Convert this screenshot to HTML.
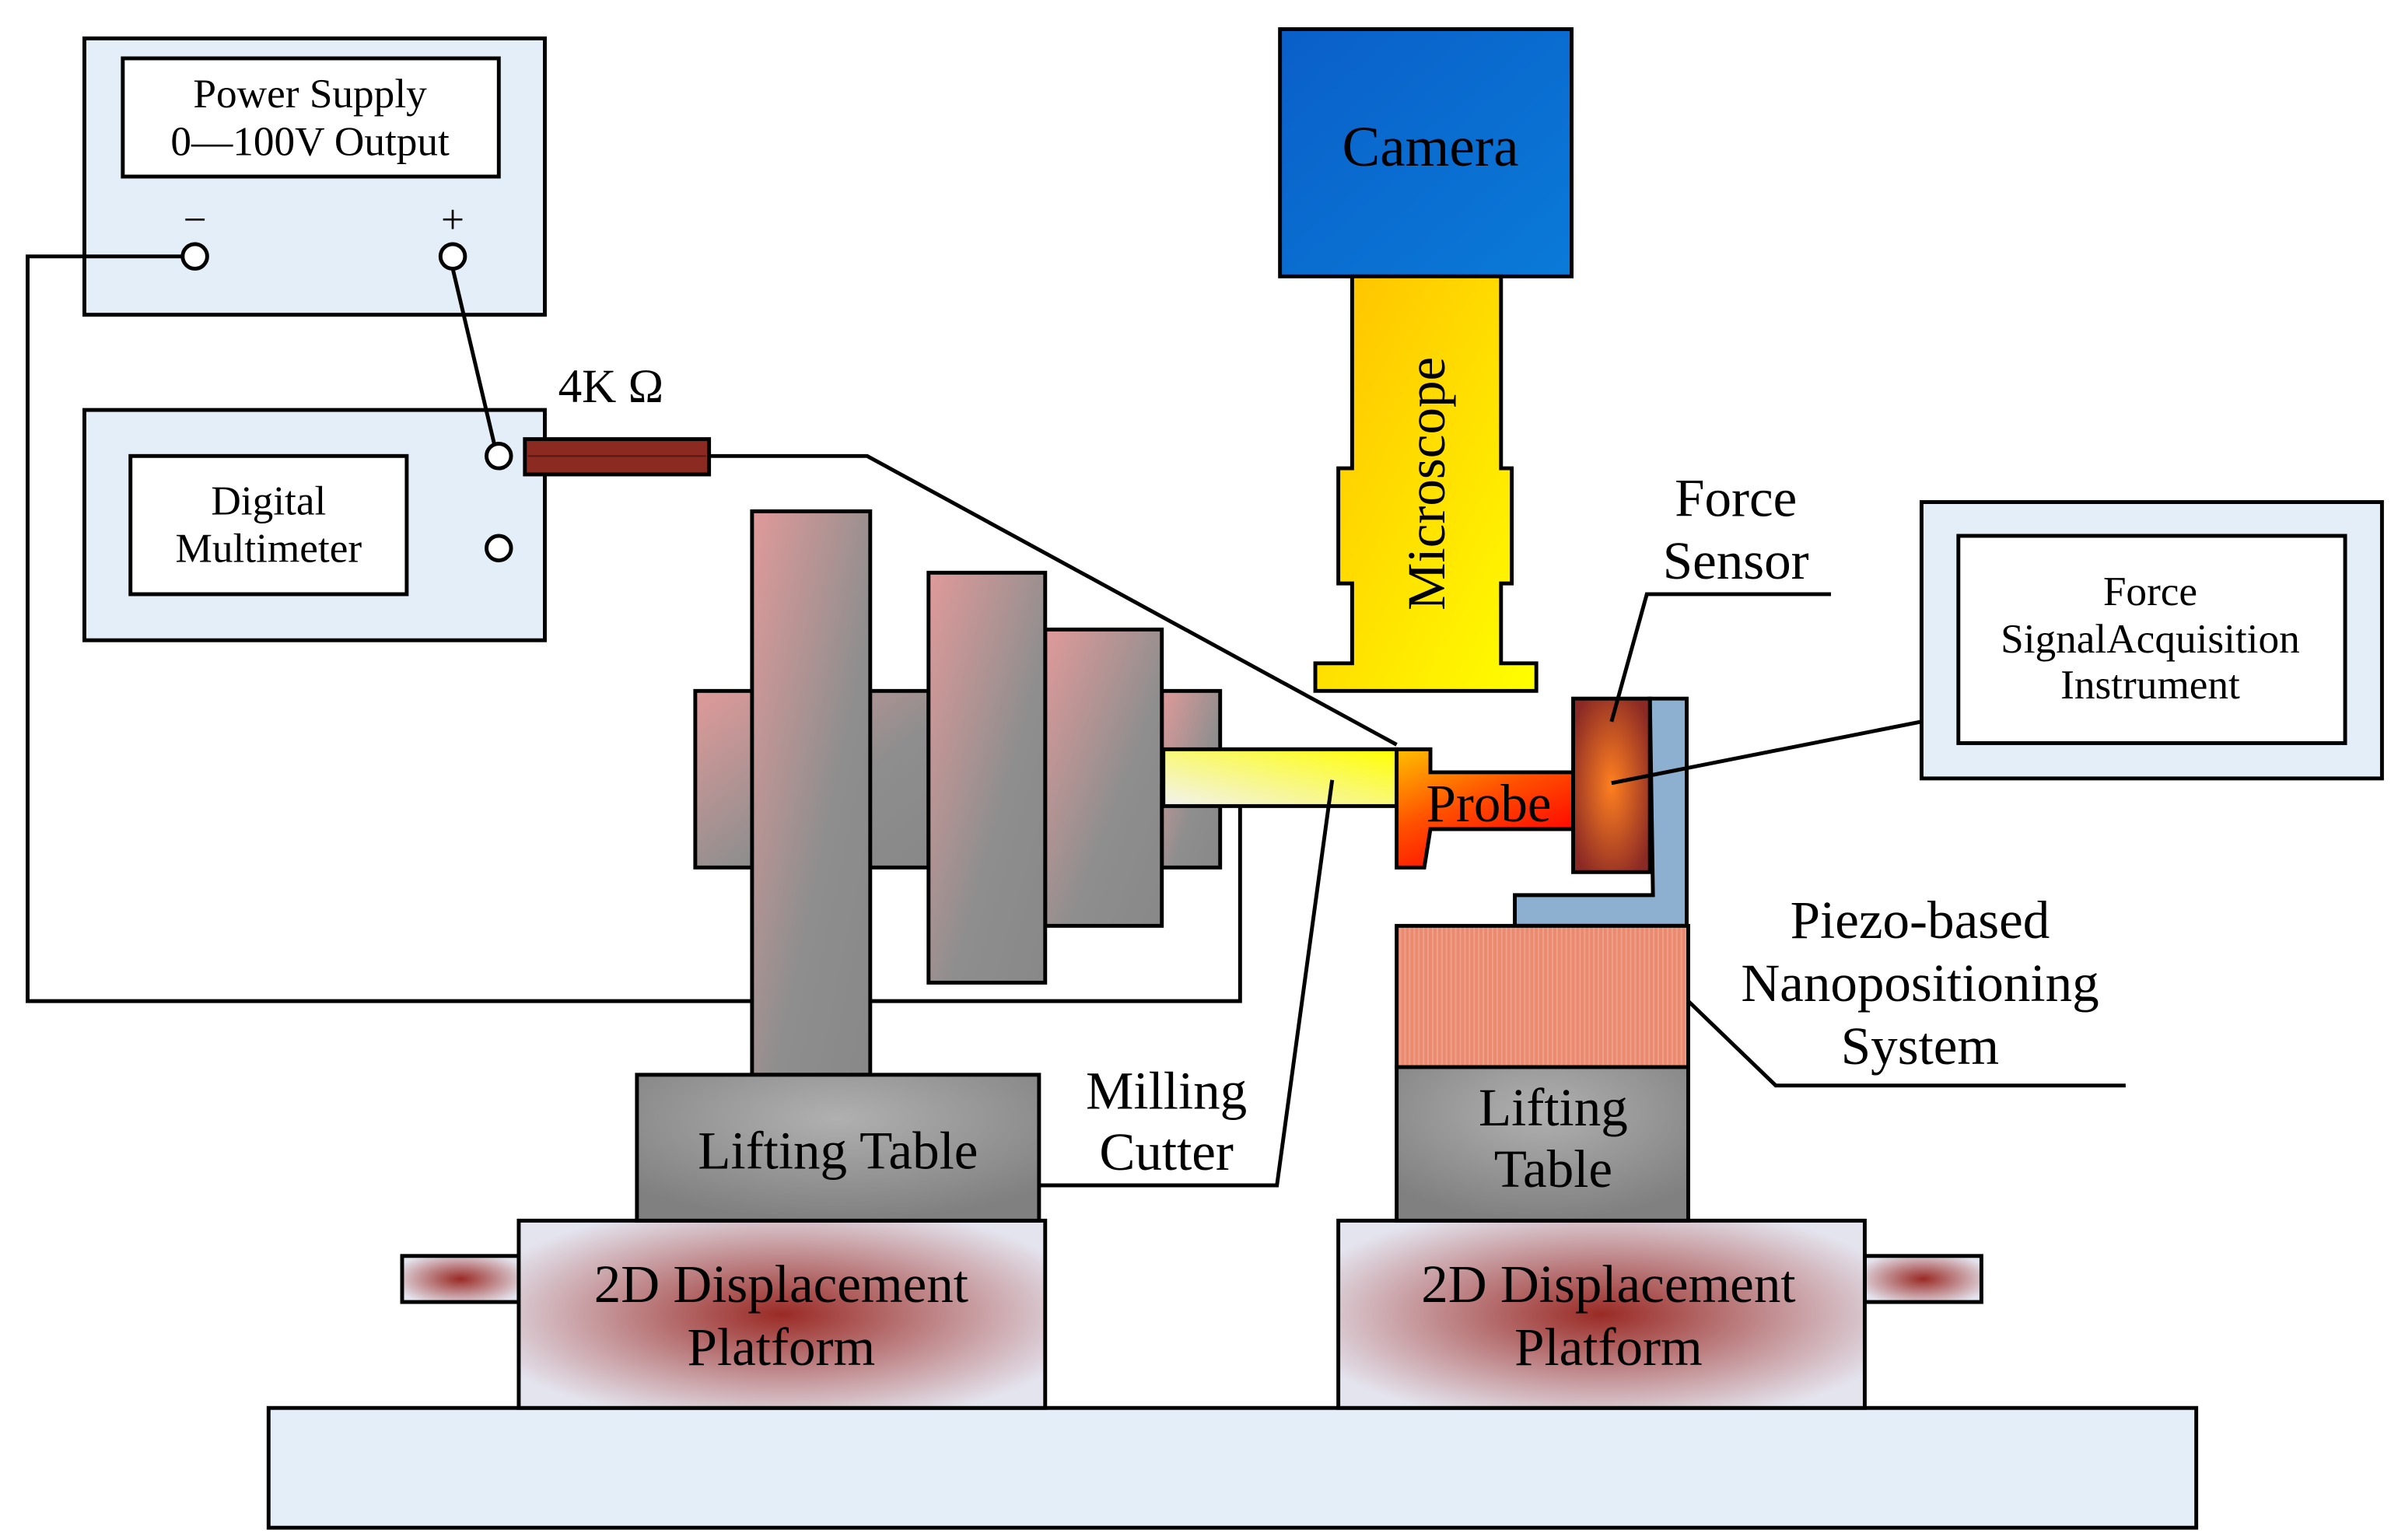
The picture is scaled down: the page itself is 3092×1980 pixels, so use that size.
<!DOCTYPE html>
<html><head><meta charset="utf-8"><style>
html,body{margin:0;padding:0;background:#fff}
svg{display:block}
text{font-family:"Liberation Serif",serif;fill:#000;text-anchor:middle}
</style></head><body>
<svg width="3092" height="1980" viewBox="0 0 1567 1003" preserveAspectRatio="none" xmlns="http://www.w3.org/2000/svg">
<defs>
<linearGradient id="mill" x1="0" y1="0" x2="1" y2="1"><stop offset="0" stop-color="#e09a9a"/><stop offset="0.6" stop-color="#8e8e8e"/><stop offset="1" stop-color="#888"/></linearGradient>
<linearGradient id="cut" x1="0" y1="1" x2="1" y2="0"><stop offset="0" stop-color="#f2f2f2"/><stop offset="1" stop-color="#ffff00"/></linearGradient>
<linearGradient id="probe" x1="0" y1="0" x2="0.6" y2="1"><stop offset="0" stop-color="#ffc000"/><stop offset="0.5" stop-color="#ff5000"/><stop offset="1" stop-color="#ff0000"/></linearGradient>
<radialGradient id="fs" cx="0.5" cy="0.5" r="0.6"><stop offset="0" stop-color="#ff8020"/><stop offset="1" stop-color="#8b2a25"/></radialGradient>
<linearGradient id="mic" x1="0" y1="0" x2="1" y2="1"><stop offset="0" stop-color="#ffc000"/><stop offset="1" stop-color="#ffff00"/></linearGradient>
<linearGradient id="cam" x1="0" y1="0" x2="1" y2="1"><stop offset="0" stop-color="#0a5fc8"/><stop offset="1" stop-color="#0a7ad8"/></linearGradient>
<radialGradient id="lift" cx="0.5" cy="0.3" r="0.7"><stop offset="0" stop-color="#b0b0b0"/><stop offset="1" stop-color="#808080"/></radialGradient>
<radialGradient id="plat" cx="0.5" cy="0.5" r="0.6"><stop offset="0" stop-color="#9a2a25"/><stop offset="1" stop-color="#e4e4ee"/></radialGradient>
<pattern id="stripes" width="3" height="10" patternUnits="userSpaceOnUse"><rect width="3" height="10" fill="#ea8a70"/><rect width="1" height="10" fill="#f0a088"/></pattern>
</defs>
<g stroke="#000" stroke-width="2.5" fill="none">
<rect x="55" y="25" width="300" height="180" fill="#e4eef8"/>
<rect x="80" y="38" width="245" height="77" fill="#fff"/>
<circle cx="127" cy="167" r="8" fill="#fff"/><circle cx="295" cy="167" r="8" fill="#fff"/>
<rect x="55" y="267" width="300" height="150" fill="#e4eef8"/>
<rect x="85" y="297" width="180" height="90" fill="#fff"/>
<circle cx="325" cy="297" r="8" fill="#fff"/><circle cx="325" cy="357" r="8" fill="#fff"/>
<polyline points="119,167 18,167 18,652 808,652 808,520"/>
<line x1="295" y1="175" x2="322" y2="289"/>
<polyline points="462,297 565,297 910,485"/>
<rect x="342" y="286" width="120" height="23" fill="#8b2a20"/>
<line x1="344" y1="297" x2="460" y2="297" stroke="#5a1510" stroke-width="1"/>
<rect x="175" y="917" width="1256" height="78" fill="#e4eef8"/>
<rect x="262" y="818" width="76" height="30" fill="url(#plat)"/>
<rect x="1215" y="818" width="76" height="30" fill="url(#plat)"/>
<rect x="338" y="795" width="343" height="122" fill="url(#plat)"/>
<rect x="872" y="795" width="343" height="122" fill="url(#plat)"/>
<rect x="453" y="450" width="152" height="115" fill="url(#mill)"/>
<rect x="757" y="450" width="38" height="115" fill="url(#mill)"/>
<rect x="681" y="410" width="76" height="193" fill="url(#mill)"/>
<rect x="605" y="373" width="76" height="267" fill="url(#mill)"/>
<rect x="490" y="333" width="77" height="367" fill="url(#mill)"/>
<rect x="415" y="700" width="262" height="95" fill="url(#lift)"/>
<rect x="758" y="488" width="152" height="37" fill="url(#cut)"/>
<polygon points="910,488 932,488 932,503 1025,503 1025,540 932,540 928,565 910,565" fill="url(#probe)"/>
<polygon points="1075,455 1099,455 1099,603 987,603 987,583 1077,583" fill="#8db0d0"/>
<rect x="1025" y="455" width="50" height="113" fill="url(#fs)"/>
<rect x="910" y="603" width="190" height="92" fill="url(#stripes)"/>
<rect x="910" y="695" width="190" height="100" fill="url(#lift)"/>
<rect x="834" y="19" width="190" height="161" fill="url(#cam)"/>
<polygon points="881,180 978,180 978,305 985,305 985,380 978,380 978,432 1001,432 1001,450 857,450 857,432 881,432 881,380 872,380 872,305 881,305" fill="url(#mic)"/>
<rect x="1252" y="327" width="300" height="180" fill="#e4eef8"/>
<rect x="1276" y="349" width="252" height="135" fill="#fff"/>
<line x1="1050" y1="510" x2="1252" y2="470"/>
<polyline points="1050,470 1073,387 1193,387"/>
<polyline points="1100,652 1157,707 1385,707"/>
<polyline points="868,508 832,772 677,772"/>
</g>
<g font-size="27">
<text x="202" y="70">Power Supply</text>
<text x="202" y="101">0—100V Output</text>
<text x="127" y="152">−</text><text x="295" y="152">+</text>
<text x="175" y="335">Digital</text>
<text x="175" y="366">Multimeter</text>
<text x="1401" y="394">Force</text>
<text x="1401" y="425">SignalAcquisition</text>
<text x="1401" y="455">Instrument</text>
</g>
<g font-size="35">
<text x="398" y="262" font-size="31">4K Ω</text>
<text x="932" y="108" font-size="37">Camera</text>
<text transform="translate(941,315) rotate(-90)">Microscope</text>
<text x="970" y="535">Probe</text>
<text x="1131" y="336">Force</text><text x="1131" y="377">Sensor</text>
<text x="1251" y="611">Piezo-based</text><text x="1251" y="652">Nanopositioning</text><text x="1251" y="693">System</text>
<text x="1012" y="733">Lifting</text><text x="1012" y="773">Table</text>
<text x="546" y="761">Lifting Table</text>
<text x="760" y="722">Milling</text><text x="760" y="762">Cutter</text>
<text x="509" y="848">2D Displacement</text><text x="509" y="889">Platform</text>
<text x="1048" y="848">2D Displacement</text><text x="1048" y="889">Platform</text>
</g>
</svg>
</body></html>
